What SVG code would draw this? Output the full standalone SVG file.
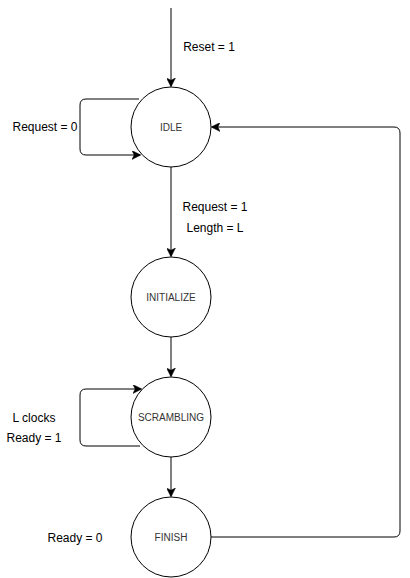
<svg xmlns="http://www.w3.org/2000/svg" width="410" height="578" viewBox="0 0 410 578">
<style>
.node circle{fill:#fff;stroke:#000;stroke-width:1}
.node text{font-family:"Liberation Sans",Arial,sans-serif;font-size:10px;fill:#333;text-anchor:middle;dominant-baseline:central}
.edge{fill:none;stroke:#000;stroke-width:1}
.lbl{font-family:"Liberation Sans",Arial,sans-serif;font-size:12px;fill:#000;text-anchor:middle;dominant-baseline:central}
</style>
<defs>
<marker id="arr" viewBox="0 0 10 10" refX="9" refY="5" markerWidth="9" markerHeight="9" markerUnits="userSpaceOnUse" orient="auto">
<path d="M0,0 L10,5 L0,10 L2.5,5 Z" fill="#000" stroke="#000" stroke-width="0.5"/>
</marker>
</defs>
<g id="connectors">
<path class="edge" d="M171,8 V86" marker-end="url(#arr)"/>
<path class="edge" d="M139,99 H86 Q80,99 80,105 V149 Q80,155 86,155 H140" marker-end="url(#arr)"/>
<path class="edge" d="M171,167 V256" marker-end="url(#arr)"/>
<path class="edge" d="M171,337 V376" marker-end="url(#arr)"/>
<path class="edge" d="M140,446 H86 Q80,446 80,440 V395 Q80,389 86,389 H141" marker-end="url(#arr)"/>
<path class="edge" d="M171,457 V496" marker-end="url(#arr)"/>
<path class="edge" d="M211,537 H394 Q400,537 400,531 V133 Q400,127 394,127 H212" marker-end="url(#arr)"/>
</g>
<g id="labels">
<text class="lbl" x="209" y="47">Reset = 1</text>
<text class="lbl" x="45" y="127">Request = 0</text>
<text class="lbl" x="215" y="207">Request = 1</text>
<text class="lbl" x="215" y="228">Length = L</text>
<text class="lbl" x="34" y="418">L clocks</text>
<text class="lbl" x="34" y="438">Ready = 1</text>
<text class="lbl" x="75" y="538">Ready = 0</text>
</g>
<g id="idle" class="node"><circle cx="171" cy="127" r="40"/><text x="171" y="127">IDLE</text></g>
<g id="initialize" class="node"><circle cx="171" cy="297" r="40"/><text x="171" y="297">INITIALIZE</text></g>
<g id="scrambling" class="node"><circle cx="171" cy="417" r="40"/><text x="171" y="417">SCRAMBLING</text></g>
<g id="finish" class="node"><circle cx="171" cy="537" r="40"/><text x="171" y="537">FINISH</text></g>
</svg>
